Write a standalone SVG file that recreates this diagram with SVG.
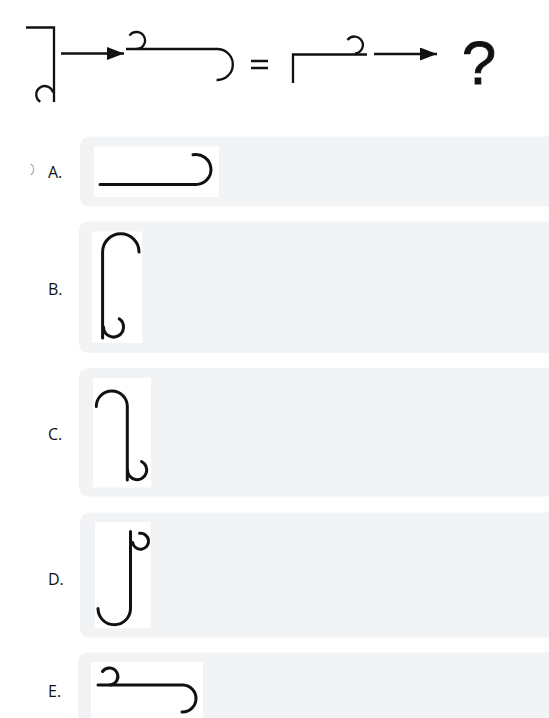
<svg xmlns="http://www.w3.org/2000/svg" width="549" height="718" viewBox="0 0 549 718">
<style>
.fig{fill:none;stroke:#111;stroke-width:2.3;stroke-linecap:butt}
.opt{fill:none;stroke:#111;stroke-width:3;stroke-linecap:round}
.card{fill:#f2f3f5}
.img{fill:#ffffff}
.lbl{font-family:"Open Sans","Noto Sans",sans-serif;font-size:16px;fill:#111}
</style>
<defs>
<marker id="ah" markerWidth="18" markerHeight="13" refX="17" refY="6.5" orient="auto" markerUnits="userSpaceOnUse">
<path d="M0,0 L17,6.5 L0,13 Z" fill="#111"/>
</marker>
</defs>
<rect width="549" height="718" fill="#ffffff"/>

<g id="question">
  <g id="q-shape1">
    <path class="fig" d="M26,27.5 H54 V102"/>
    <path class="fig" d="M53,92.5 A8.5,8.5 0 1 0 40.3,101.8"/>
  </g>
  <g id="q-shape2">
    <path class="fig" d="M126,49 H218 A15.5,15.5 0 0 1 216.6,80"/>
    <path class="fig" d="M129.5,35.7 A8.5,8.5 0 1 1 136.5,49"/>
  </g>
  <g id="q-equals">
    <path class="fig" d="M251,61 H268 M251,68 H268" stroke-width="2.5"/>
  </g>
  <g id="q-shape3">
    <path class="fig" d="M293,83 V54.5 H367"/>
    <path class="fig" d="M347.5,40 A8.5,8.5 0 1 1 355,53.5"/>
  </g>
  <text id="q-mark" x="479" y="83.5" text-anchor="middle" font-family="Liberation Sans, Arial, sans-serif" font-size="62" fill="#111" stroke="#111" stroke-width="0.8">?</text>
</g>

<g id="connectors">
  <line class="fig" x1="61" y1="53.5" x2="124" y2="53.5" marker-end="url(#ah)"/>
  <line class="fig" x1="374" y1="54" x2="437" y2="54" marker-end="url(#ah)"/>
</g>

<path d="M31,164 A7,7 0 0 1 31,175" fill="none" stroke="#b9a5a5" stroke-width="1.2"/>

<g id="option-A">
  <rect class="card" x="80" y="136.5" width="480" height="70" rx="9"/>
  <rect class="img" x="94" y="146.5" width="125" height="50.5"/>
  <path class="opt" d="M100,184.5 H196 A15,15 0 1 0 193,154.8"/>
  <text class="lbl" x="48" y="178">A.</text>
</g>

<g id="option-B">
  <rect class="card" x="79" y="221.5" width="480" height="131.5" rx="9"/>
  <rect class="img" x="92" y="231.5" width="50" height="111.5"/>
  <path class="opt" d="M102.6,338 V252 A18.2,18.2 0 0 1 139,252"/>
  <path class="opt" d="M103.5,327 A10,10 0 1 0 119.2,318.8"/>
  <text class="lbl" x="48" y="295">B.</text>
</g>

<g id="option-C">
  <rect class="card" x="79" y="368" width="480" height="128.5" rx="9"/>
  <rect class="img" x="93" y="378" width="58" height="109.5"/>
  <path class="opt" d="M96.3,406.5 A15.5,15.5 0 0 1 127.3,406.5 V480"/>
  <path class="opt" d="M127.5,470 A9.6,9.6 0 1 0 141.5,461.5"/>
  <text class="lbl" x="48" y="440">C.</text>
</g>

<g id="option-D">
  <rect class="card" x="80" y="512.5" width="480" height="125" rx="9"/>
  <rect class="img" x="95" y="522" width="55.5" height="106"/>
  <path class="opt" d="M130.5,531.5 V608.5 A16.2,16.2 0 0 1 98,608.5"/>
  <path class="opt" d="M139.6,533.3 A8,8 0 1 1 132.6,542.4"/>
  <text class="lbl" x="48" y="585">D.</text>
</g>

<g id="option-E">
  <rect class="card" x="78" y="652.5" width="480" height="80" rx="9"/>
  <rect class="img" x="91" y="662" width="112" height="60"/>
  <path class="opt" d="M98,685 H183 A13.5,13.5 0 0 1 182,712"/>
  <path class="opt" d="M102.5,671.5 A8.5,8.5 0 1 1 110,685"/>
  <text class="lbl" x="48" y="697">E.</text>
</g>
</svg>
